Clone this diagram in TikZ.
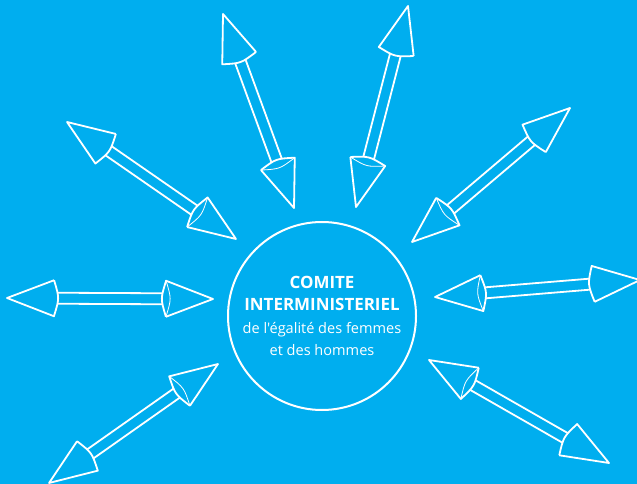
\documentclass[tikz,border=0pt]{standalone}
\usepackage{fontspec}
\setmainfont{Open Sans}[Ligatures=TeXOff]
\usetikzlibrary{calc}
\definecolor{cimblue}{RGB}{0,174,239}

\begin{document}
\begin{tikzpicture}[x=1bp,y=-1bp,line width=1.8bp,line join=round]

% Background and page frame.
\clip (0,0) rectangle (637,484);
\fill[cimblue] (0,0) rectangle (637,484);

% Central circle with the committee name.
\node[circle,draw=white,line width=2bp,minimum size=188bp,align=center,
    text=white,font=\fontsize{17}{22.5}\selectfont\bfseries]
    (cim) at (322,316)
    {COMITE\\INTERMINISTERIEL\\
     {\fontsize{14.6}{22.5}\selectfont\mdseries de l'égalité des femmes}\\
     {\fontsize{14.6}{22.5}\selectfont\mdseries et des hommes}};

% Loop for each double arrow: outer tip / inner tip.
\foreach \n/\o/\i in {1/{7,298}/{213,299},2/{223,14}/{294,208},
    3/{67,122}/{236,239},4/{408,6}/{356,207},5/{570,108}/{412,242},
    6/{640,280}/{435,297},7/{609,463}/{429,360},8/{49,483}/{218,364}} {

    % Tips and head bases.
    \coordinate (out\n) at (\o);
    \coordinate (in\n) at (\i);
    \coordinate (bo\n) at ($(out\n)!47bp!(in\n)$);
    \coordinate (bi\n) at ($(in\n)!47bp!(out\n)$);

    % Outer head: cone with curved base.
    \draw[white]
        ($(bo\n)!18bp!90:(in\n)$) -- (out\n)
        -- ($(bo\n)!18bp!-90:(in\n)$)
        .. controls ($(bo\n)!5.5bp!(in\n)$) .. ($(bo\n)!18bp!90:(in\n)$);

    % Inner head: cone with its base ellipse seen.
    \draw[white]
        ($(bi\n)!18bp!90:(out\n)$) -- (in\n)
        -- ($(bi\n)!18bp!-90:(out\n)$)
        .. controls ($(bi\n)!5.5bp!(out\n)$) .. ($(bi\n)!18bp!90:(out\n)$);
    \draw[white,line width=0.8bp]
        ($(bi\n)!18bp!90:(out\n)$)
        .. controls ($(bi\n)!-5.5bp!(out\n)$) .. ($(bi\n)!18bp!-90:(out\n)$);

    % Shaft between both heads.
    \coordinate (so\n) at ($(bo\n)!3.6bp!(in\n)$);
    \coordinate (si\n) at ($(bi\n)!3.6bp!(out\n)$);
    \draw[white]
        ($(so\n)!5.5bp!90:(in\n)$) -- ($(si\n)!5.5bp!-90:(out\n)$);
    \draw[white]
        ($(so\n)!5.5bp!-90:(in\n)$) -- ($(si\n)!5.5bp!90:(out\n)$);
}

\end{tikzpicture}
\end{document}
